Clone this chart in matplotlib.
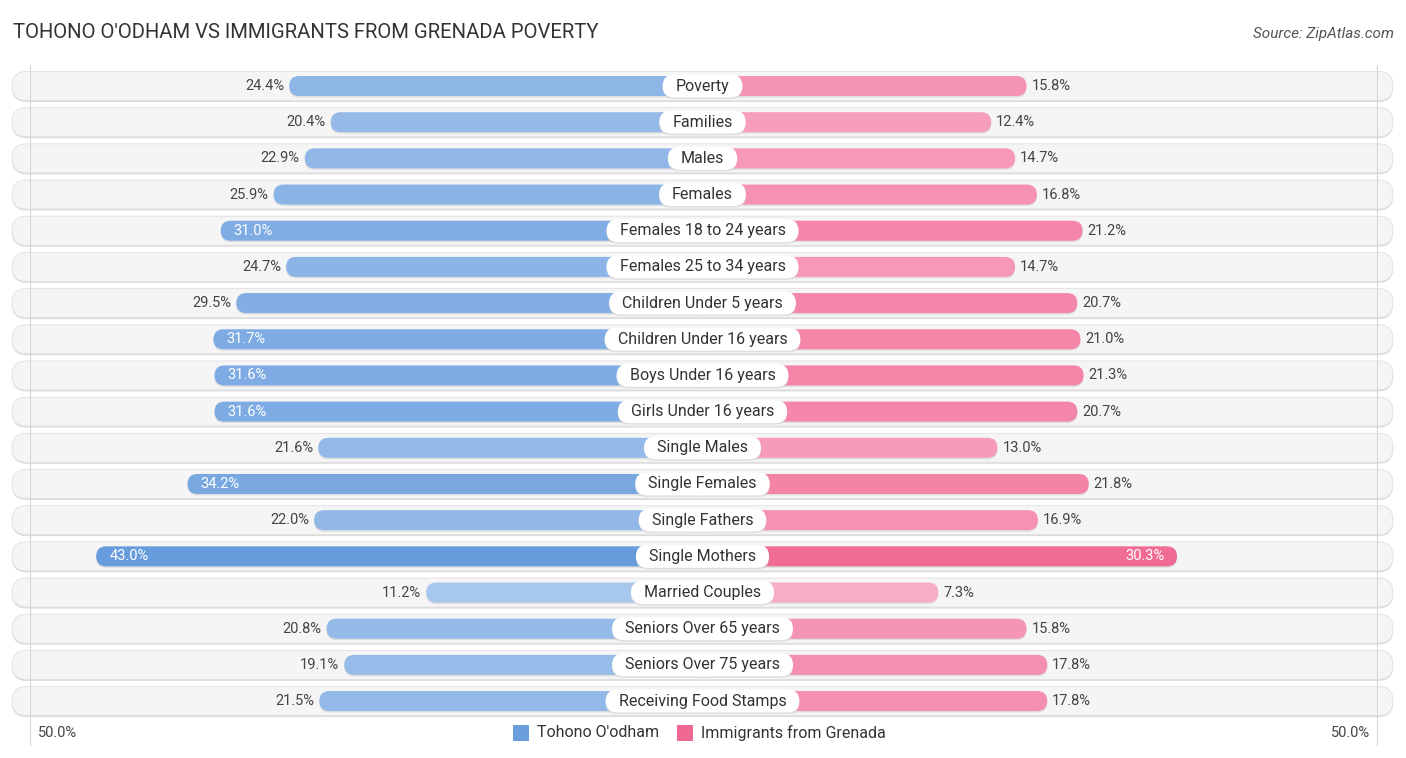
import matplotlib
matplotlib.use("Agg")
import matplotlib.pyplot as plt
from matplotlib.patches import FancyBboxPatch, Rectangle
import numpy as np

categories = ["Poverty", "Families", "Males", "Females", "Females 18 to 24 years",
              "Females 25 to 34 years", "Children Under 5 years", "Children Under 16 years",
              "Boys Under 16 years", "Girls Under 16 years", "Single Males", "Single Females",
              "Single Fathers", "Single Mothers", "Married Couples", "Seniors Over 65 years",
              "Seniors Over 75 years", "Receiving Food Stamps"]
tohono = [24.4, 20.4, 22.9, 25.9, 31.0, 24.7, 29.5, 31.7, 31.6, 31.6, 21.6, 34.2,
          22.0, 43.0, 11.2, 20.8, 19.1, 21.5]
grenada = [15.8, 12.4, 14.7, 16.8, 21.2, 14.7, 20.7, 21.0, 21.3, 20.7, 13.0, 21.8,
           16.9, 30.3, 7.3, 15.8, 17.8, 17.8]
series_names = ["Tohono O'odham", "Immigrants from Grenada"]
title = "TOHONO O'ODHAM VS IMMIGRANTS FROM GRENADA POVERTY"
source = "Source: ZipAtlas.com"
axis_label = "50.0%"

plt.rcParams['font.family'] = ['Roboto', 'DejaVu Sans']

W, H = 1406, 758
CX = 702.5          # center pixel
PXU = 10.38         # pixels per percent unit
Y0 = 86.0           # first row pixel
DY = 36.18          # row spacing pixel
OFF = 160.0 / PXU   # constant offset (label area)

fig = plt.figure(figsize=(W / 100, H / 100), dpi=100)
ax = fig.add_axes([0, 0, 1, 1])
ax.set_xlim(-CX / PXU, (W - CX) / PXU)
ax.set_ylim((H - Y0) / DY, -Y0 / DY)
ax.axis('off')

asp = PXU / DY  # mutation aspect for round corners


def px_x(p):
    return p / PXU


def px_y(p):
    return p / DY


def mix(c1, c2, t):
    c1 = np.array(matplotlib.colors.to_rgb(c1))
    c2 = np.array(matplotlib.colors.to_rgb(c2))
    return tuple(c1 + (c2 - c1) * t)


def blue_col(v):
    t = np.clip((v - 5) / 40.0, 0, 1)
    return mix("#b4cff0", "#6399dc", t)


def pink_col(v):
    t = np.clip((v - 5) / 28.0, 0, 1)
    return mix("#f9b3cb", "#f0648e", t)


def rbox(x0, y0, w, h, r_px, **kw):
    p = FancyBboxPatch((x0, y0), w, h,
                       boxstyle=f"round,pad=0,rounding_size={px_x(r_px)}",
                       mutation_aspect=asp, **kw)
    ax.add_patch(p)
    return p


# vertical guide lines
for xv in [px_x(30 - CX), px_x(1377 - CX)]:
    ax.plot([xv, xv], [px_y(65 - Y0), px_y(745 - Y0)], color="#d6d6d6", lw=0.8, zorder=1.2)

bg_h = px_y(29)
bar_h = px_y(20)
bg_x0 = px_x(12 - CX)
bg_w = px_x(1393 - 12)

fig.canvas.draw()
renderer = fig.canvas.get_renderer()

for i, cat in enumerate(categories):
    y = i
    # row background shadow + background
    rbox(bg_x0, y - bg_h / 2 + px_y(1.5), bg_w, bg_h, 14.5, fc="#dcdcdc", ec="none", zorder=1)
    rbox(bg_x0, y - bg_h / 2, bg_w, bg_h, 14.5, fc="#f5f5f5", ec="#e0e0e0", lw=0.6, zorder=1.1)

    lv = tohono[i]
    rv = grenada[i]
    lw_ = OFF + lv
    rw_ = OFF + rv
    # bar shadows
    rbox(-lw_, y - bar_h / 2 + px_y(1.5), lw_, bar_h, 10, fc="#c8c8c8", ec="none", alpha=0.5, zorder=2)
    rbox(0, y - bar_h / 2 + px_y(1.5), rw_, bar_h, 10, fc="#c8c8c8", ec="none", alpha=0.5, zorder=2)
    rbox(-lw_, y - bar_h / 2, lw_, bar_h, 10, fc=blue_col(lv), ec="none", zorder=2.1)
    rbox(0, y - bar_h / 2, rw_, bar_h, 10, fc=pink_col(rv), ec="none", zorder=2.1)

    # value labels
    if lv >= 30:
        ax.text(-lw_ + px_x(13), y, f"{lv:.1f}%", ha="left", va="center",
                fontsize=10.5, color="white", zorder=5)
    else:
        ax.text(-lw_ - px_x(5), y, f"{lv:.1f}%", ha="right", va="center",
                fontsize=10.5, color="#444444", zorder=5)
    if rv >= 30:
        ax.text(rw_ - px_x(12), y, f"{rv:.1f}%", ha="right", va="center",
                fontsize=10.5, color="white", zorder=5)
    else:
        ax.text(rw_ + px_x(5), y, f"{rv:.1f}%", ha="left", va="center",
                fontsize=10.5, color="#444444", zorder=5)

    # category label with white pill
    t = ax.text(0, y, cat, ha="center", va="center", fontsize=11.5, color="#333333", zorder=6)
    bb = t.get_window_extent(renderer=renderer)
    tw = bb.width
    box_w = px_x(tw + 26)
    box_h = px_y(23)
    rbox(-box_w / 2, y - box_h / 2 + px_y(1.5), box_w, box_h, 11.5, fc="#d0d0d0", ec="none", alpha=0.6, zorder=3)
    rbox(-box_w / 2, y - box_h / 2, box_w, box_h, 11.5, fc="white", ec="none", zorder=3.1)

# title & source
ax.text(px_x(13 - CX), px_y(33 - Y0), title, ha="left", va="center", fontsize=14.6, color="#333333")
ax.text(px_x(1394 - CX), px_y(34 - Y0), source, ha="right", va="center", fontsize=11,
        color="#555555", style="italic")

# axis labels
ya = px_y(733 - Y0)
ax.text(px_x(38 - CX), ya, axis_label, ha="left", va="center", fontsize=10.5, color="#444444")
ax.text(px_x(1370 - CX), ya, axis_label, ha="right", va="center", fontsize=10.5, color="#444444")

# legend
sq = px_y(16)
sqx = px_x(16)
ax.add_patch(Rectangle((px_x(513 - CX), ya - sq / 2), sqx, sq, fc="#6a9fdc", ec="none"))
ax.text(px_x(537 - CX), ya, series_names[0], ha="left", va="center", fontsize=11.5, color="#333333")
ax.add_patch(Rectangle((px_x(677 - CX), ya - sq / 2), sqx, sq, fc="#f0688f", ec="none"))
ax.text(px_x(701 - CX), ya, series_names[1], ha="left", va="center", fontsize=11.5, color="#333333")

fig.savefig("out.png", dpi=100, facecolor="white")
